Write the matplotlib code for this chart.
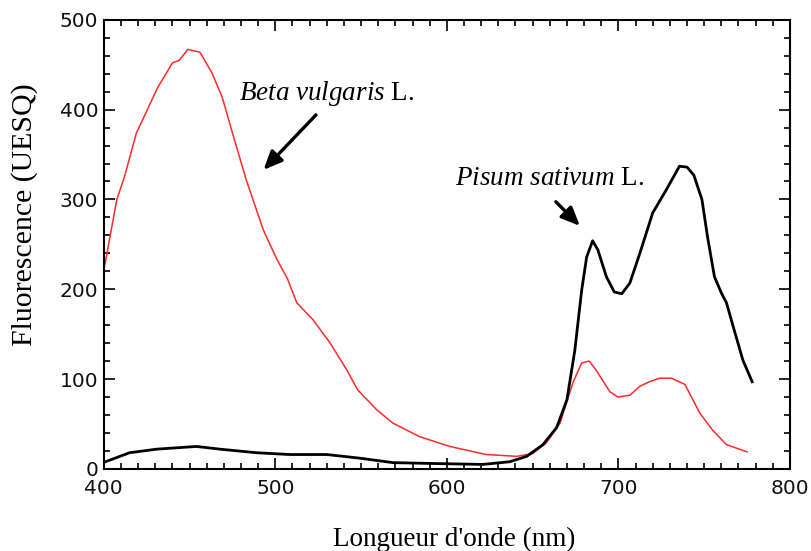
import matplotlib
matplotlib.use("Agg")
import matplotlib.pyplot as plt
from matplotlib.ticker import MultipleLocator

plt.rcParams["mathtext.fontset"] = "custom"
plt.rcParams["mathtext.it"] = "Liberation Serif:italic"
plt.rcParams["mathtext.rm"] = "Liberation Serif"

# Beta vulgaris L. (red)
beta_x = [400, 407.6, 412, 419, 431.5, 440, 444, 449, 456, 463, 469, 475, 483, 493,
          501, 507, 512.5, 522, 532, 541.7, 548, 559, 568.5, 584, 601.7, 623, 640.8,
          650, 658, 666, 673.5, 678.6, 683, 687, 695, 699.7, 706.7, 712.5, 718, 724,
          731, 738.8, 747.5, 755, 763, 775]
beta_y = [221, 300, 325, 374, 425, 452, 455, 467, 464, 441, 414, 374, 322, 266,
          233, 212, 185, 166, 140, 110, 88, 66, 51, 36, 25, 16, 14,
          17, 29, 51, 96, 118, 120, 110, 86, 80, 82, 92, 97, 101,
          101, 94, 62, 43, 27, 19]

# Pisum sativum L. (black)
pisum_x = [401, 415, 431, 454, 467.6, 489, 508.5, 530, 549, 568.5, 592, 621, 636.7,
           646.6, 656, 664, 670, 674.6, 678.6, 681.5, 685, 688, 693, 697.6, 702,
           706.7, 712.5, 720, 728, 735.6, 740, 744, 748.7, 752, 756, 760, 763, 767,
           772.6, 778]
pisum_y = [8, 18, 22, 25, 22, 18, 16, 16, 12, 7, 6, 5, 8,
           14, 27, 46, 77, 132, 199, 236, 254, 244, 214, 197, 195,
           207, 240, 285, 311, 337, 336, 327, 300, 258, 214, 196, 185, 158,
           121, 97]

fig = plt.figure(figsize=(8.11, 5.51), dpi=100)
ax = fig.add_axes([0.128, 0.149, 0.846, 0.815])

ax.plot(beta_x, beta_y, color="#ff2a2a", lw=1.1)
ax.plot(pisum_x, pisum_y, color="black", lw=2.0)

ax.set_xlim(400, 800)
ax.set_ylim(0, 500)
ax.xaxis.set_major_locator(MultipleLocator(100))
ax.xaxis.set_minor_locator(MultipleLocator(10))
ax.yaxis.set_major_locator(MultipleLocator(100))
ax.yaxis.set_minor_locator(MultipleLocator(20))
ax.tick_params(which="both", direction="in", top=True, right=True, width=1.2)
ax.tick_params(which="major", length=8)
ax.tick_params(which="minor", length=4)
ax.tick_params(axis="both", labelsize=14.5, labelcolor="#111111")
ax.tick_params(axis="x", pad=7)
ax.tick_params(axis="y", pad=4)
for lab in ax.get_xticklabels() + ax.get_yticklabels():
    lab.set_family("DejaVu Sans")
for sp in ax.spines.values():
    sp.set_linewidth(1.5)

ax.set_xlabel("Longueur d'onde (nm)", family="Liberation Serif", fontsize=19.5, va="center")
ax.set_ylabel("Fluorescence (UESQ)", family="Liberation Serif", fontsize=21.5, va="center")
ax.xaxis.set_label_coords(0.511, -0.158)
ax.yaxis.set_label_coords(-0.115, 0.566)

ax.text(530, 417.6, r"$\it{Beta\ vulgaris}$ L.", ha="center", va="center",
        family="Liberation Serif", fontsize=19.5)
ax.text(660, 323, r"$\it{Pisum\ sativum}$ L.", ha="center", va="center",
        family="Liberation Serif", fontsize=19.5)
arrow_style = dict(arrowstyle="-|>,head_width=0.35,head_length=0.8",
                   color="black", lw=2.4, mutation_scale=14)
ax.annotate("", xy=(492, 330.7), xytext=(524.8, 396.4), arrowprops=arrow_style)
ax.annotate("", xy=(678.7, 268.4), xytext=(662.4, 299.6), arrowprops=arrow_style)

fig.savefig("out.png", dpi=100)
